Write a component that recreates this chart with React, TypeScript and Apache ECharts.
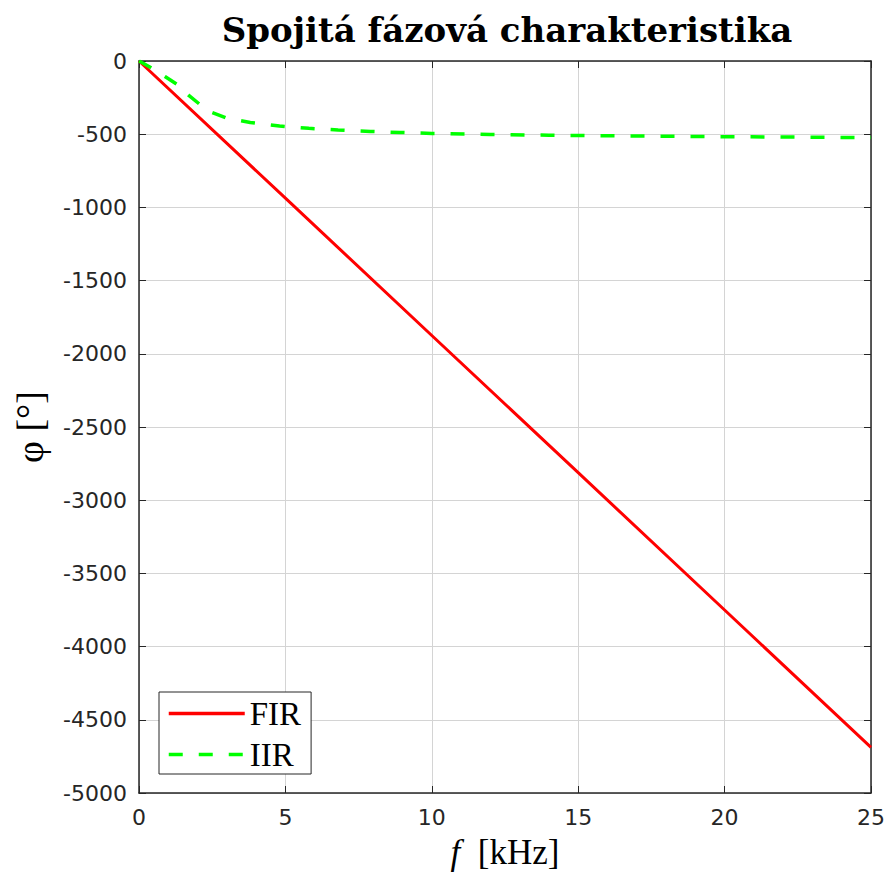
import React, { useEffect, useRef } from "react";
import * as echarts from "echarts";

// Frequency [kHz] and phase [deg] samples
const firFreq = [0, 5, 10, 15, 20, 25];
const firPhase = [0, -937, -1875, -2812, -3750, -4688];

const iirFreq = [0, 0.4, 0.9, 1.3, 1.7, 2.1, 2.5, 3.0, 3.8, 4.8, 5.8, 6.8, 7.9, 8.9, 10, 12, 14, 16, 18, 20, 22.5, 25];
const iirPhase = [0, -45, -108, -160, -235, -300, -352, -390, -420, -444, -460, -471, -481, -488, -495, -502, -507, -511, -514, -517, -520, -523];

const xTicks = { min: 0, max: 25, interval: 5 };
const yTicks = { min: -5000, max: 0, interval: 500 };

const seriesNames = ["FIR", "IIR"];

const AXIS_COLOR = "#262626";
const SERIF = "'Liberation Serif', 'DejaVu Serif', serif";
const TITLE_SERIF = "'DejaVu Serif', 'Liberation Serif', serif";
const SANS = "'DejaVu Sans', 'Liberation Sans', sans-serif";

export default function App() {
  const ref = useRef<HTMLDivElement>(null);

  useEffect(() => {
    if (!ref.current) return;
    const chart = echarts.init(ref.current, undefined, { renderer: "svg" });

    const firData = firFreq.map((f, i) => [f, firPhase[i]]);
    const iirData = iirFreq.map((f, i) => [f, iirPhase[i]]);

    const tickCommon = {
      show: true,
      inside: true,
      length: 7,
      lineStyle: { color: AXIS_COLOR, width: 1 },
    };
    const lineCommon = { show: true, onZero: false, lineStyle: { color: AXIS_COLOR, width: 1.5 } };
    const plainNumber = (v: number) => String(v);

    chart.setOption({
      animation: false,
      backgroundColor: "#ffffff",
      title: {
        text: "Spojitá fázová charakteristika",
        left: 502,
        top: 8,
        textAlign: "center",
        textStyle: {
          fontFamily: TITLE_SERIF,
          fontWeight: "bold",
          fontSize: 34,
          color: "#000",
        },
      },
      grid: { left: 139, right: 16, top: 61, bottom: 85, containLabel: false },
      legend: {
        data: seriesNames,
        orient: "vertical",
        left: 159,
        top: 692,
        backgroundColor: "#ffffff",
        borderColor: AXIS_COLOR,
        borderWidth: 1,
        borderRadius: 0,
        padding: [5, 10, 3, 8],
        itemWidth: 76,
        itemHeight: 24,
        itemGap: 8,
        itemStyle: { color: "rgba(0,0,0,0)", borderWidth: 0, opacity: 0 },
        lineStyle: { width: 3.5 },
        textStyle: { fontFamily: SERIF, fontSize: 33, color: "#000" },
      },
      xAxis: [
        {
          type: "value",
          ...xTicks,
          name: "{i|f}  [kHz]",
          nameLocation: "middle",
          nameGap: 42,
          nameTextStyle: {
            fontFamily: SERIF,
            fontSize: 35,
            color: "#000",
            rich: { i: { fontFamily: SERIF, fontStyle: "italic", fontSize: 35, color: "#000" } },
          },
          axisLine: lineCommon,
          axisTick: tickCommon,
          axisLabel: { fontFamily: SANS, fontSize: 22, color: AXIS_COLOR, margin: 13, formatter: plainNumber },
          splitLine: { show: true, lineStyle: { color: "#d4d4d4", width: 1 } },
        },
        {
          type: "value",
          ...xTicks,
          position: "top",
          axisLine: lineCommon,
          axisTick: tickCommon,
          axisLabel: { show: false },
          splitLine: { show: false },
        },
      ],
      yAxis: [
        {
          type: "value",
          ...yTicks,
          name: "φ [°]",
          nameLocation: "middle",
          nameRotate: 90,
          nameGap: 90,
          nameTextStyle: { fontFamily: SERIF, fontSize: 38, color: "#000" },
          axisLine: lineCommon,
          axisTick: tickCommon,
          axisLabel: { fontFamily: SANS, fontSize: 22, color: AXIS_COLOR, margin: 12, formatter: plainNumber },
          splitLine: { show: true, lineStyle: { color: "#d4d4d4", width: 1 } },
        },
        {
          type: "value",
          ...yTicks,
          position: "right",
          axisLine: lineCommon,
          axisTick: tickCommon,
          axisLabel: { show: false },
          splitLine: { show: false },
        },
      ],
      series: [
        {
          name: "FIR",
          type: "line",
          xAxisIndex: 0,
          yAxisIndex: 0,
          data: firData,
          symbol: "none",
          showSymbol: false,
          color: "#ff0000",
          lineStyle: { color: "#ff0000", width: 3 },
        },
        {
          name: "IIR",
          type: "line",
          xAxisIndex: 0,
          yAxisIndex: 0,
          data: iirData,
          symbol: "none",
          showSymbol: false,
          color: "#00ff00",
          lineStyle: { color: "#00ff00", width: 3.5, type: [14, 16] },
        },
      ],
    });

    return () => chart.dispose();
  }, []);

  return (
    <div
      ref={ref}
      style={{ position: "fixed", left: 0, top: 0, width: 888, height: 878, background: "#fff" }}
    />
  );
}
